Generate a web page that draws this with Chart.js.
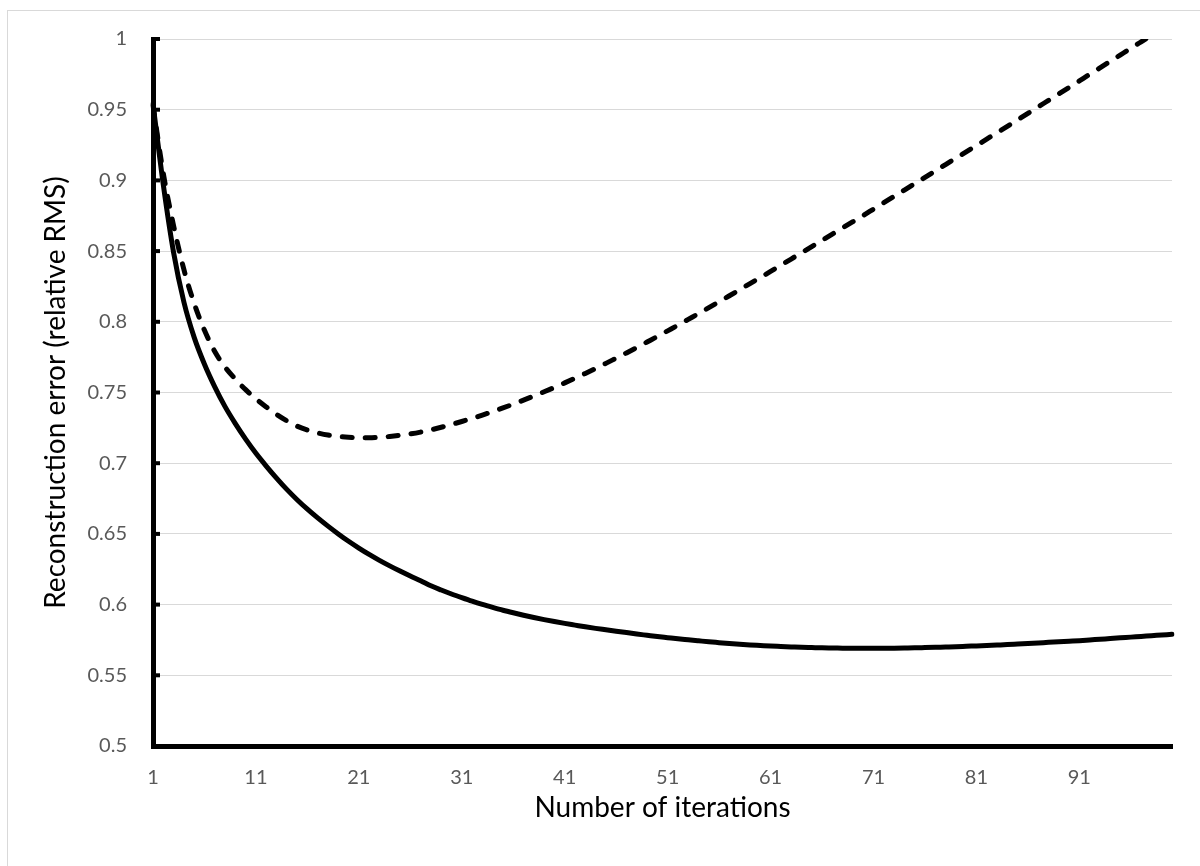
<!DOCTYPE html>
<html>
<head>
<meta charset="utf-8">
<script src="https://cdn.jsdelivr.net/npm/chart.js@4.4.1/dist/chart.umd.min.js"></script>
<style>
  html, body { margin: 0; padding: 0; background: #fff; overflow: hidden; }
  #frame { position: absolute; left: 7px; top: 10px; width: 1300px; height: 1000px; border: 1px solid #d9d9d9; }
  #wrap { position: absolute; left: 0; top: 0; width: 1200px; height: 866px; }
</style>
</head>
<body>
<div id="frame"></div>
<div id="wrap"><canvas id="chart" width="1200" height="866"></canvas></div>
<script>
// iteration numbers 1..100
const iterations = Array.from({ length: 100 }, (_, i) => String(i + 1));

// solid curve
const solidErr = [
  0.9540, 0.8970, 0.8490, 0.8140, 0.7890, 0.7700, 0.7540, 0.7400, 0.7280, 0.7170,
  0.7070, 0.6980, 0.6895, 0.6815, 0.6742, 0.6675, 0.6613, 0.6555, 0.6500, 0.6448,
  0.6400, 0.6355, 0.6313, 0.6274, 0.6237, 0.6202, 0.6169, 0.6133, 0.6103, 0.6075,
  0.6049, 0.6024, 0.6001, 0.5980, 0.5960, 0.5942, 0.5925, 0.5909, 0.5894, 0.5880,
  0.5867, 0.5855, 0.5843, 0.5832, 0.5822, 0.5812, 0.5802, 0.5792, 0.5783, 0.5774,
  0.5766, 0.5758, 0.5751, 0.5744, 0.5737, 0.5731, 0.5725, 0.5720, 0.5715, 0.5711,
  0.5707, 0.5704, 0.5701, 0.5698, 0.5696, 0.5694, 0.5693, 0.5692, 0.5691, 0.5691,
  0.5691, 0.5691, 0.5692, 0.5693, 0.5694, 0.5696, 0.5698, 0.5700, 0.5702, 0.5705,
  0.5708, 0.5711, 0.5714, 0.5717, 0.5721, 0.5725, 0.5729, 0.5733, 0.5737, 0.5741,
  0.5745, 0.5750, 0.5755, 0.5760, 0.5765, 0.5770, 0.5775, 0.5780, 0.5785, 0.5790
];

// dashed curve
const dashedErr = [
  0.9530, 0.9050, 0.8680, 0.8370, 0.8130, 0.7940, 0.7790, 0.7680, 0.7595, 0.7520,
  0.7455, 0.7398, 0.7345, 0.7300, 0.7262, 0.7234, 0.7214, 0.7199, 0.7189, 0.7183,
  0.7180, 0.7180, 0.7183, 0.7189, 0.7197, 0.7207, 0.7220, 0.7236, 0.7254, 0.7274,
  0.7295, 0.7317, 0.7340, 0.7365, 0.7391, 0.7418, 0.7446, 0.7475, 0.7505, 0.7536,
  0.7568, 0.7601, 0.7635, 0.7670, 0.7706, 0.7743, 0.7780, 0.7818, 0.7857, 0.7896,
  0.7936, 0.7976, 0.8017, 0.8058, 0.8100, 0.8142, 0.8184, 0.8227, 0.8270, 0.8313,
  0.8356, 0.8400, 0.8444, 0.8488, 0.8532, 0.8576, 0.8620, 0.8664, 0.8708, 0.8752,
  0.8797, 0.8842, 0.8887, 0.8932, 0.8977, 0.9022, 0.9067, 0.9112, 0.9157, 0.9202,
  0.9247, 0.9292, 0.9337, 0.9382, 0.9428, 0.9474, 0.9520, 0.9566, 0.9612, 0.9658,
  0.9704, 0.9750, 0.9796, 0.9842, 0.9888, 0.9934, 0.9980, 1.0026, 1.0072, 1.0118
];

const yMin = 0.5;
const yMax = 1;
const yStep = 0.05;

// small black tick marks on the inside of the y axis
const innerTicks = {
  id: 'innerTicks',
  beforeDatasetsDraw(chart) {
    const { ctx, chartArea, scales: { y } } = chart;
    ctx.save();
    ctx.strokeStyle = '#000';
    ctx.lineWidth = 4;
    y.ticks.forEach(t => {
      const py = y.getPixelForValue(t.value);
      ctx.beginPath();
      ctx.moveTo(chartArea.left, py);
      ctx.lineTo(chartArea.left + 7, py);
      ctx.stroke();
    });
    ctx.restore();
  }
};

new Chart(document.getElementById('chart'), {
  type: 'line',
  data: {
    labels: iterations,
    datasets: [
      {
        data: solidErr,
        borderColor: '#000',
        borderWidth: 5,
        pointRadius: 0,
        cubicInterpolationMode: 'monotone',
        borderCapStyle: 'round',
        borderJoinStyle: 'round'
      },
      {
        data: dashedErr,
        borderColor: '#000',
        borderWidth: 5,
        borderDash: [10, 13],
        borderCapStyle: 'round',
        borderJoinStyle: 'round',
        pointRadius: 0,
        cubicInterpolationMode: 'monotone'
      }
    ]
  },
  options: {
    responsive: false,
    animation: false,
    devicePixelRatio: 1,
    layout: { padding: { top: 39, right: 28, left: 0, bottom: 0 } },
    plugins: { legend: { display: false }, tooltip: { enabled: false } },
    scales: {
      x: {
        type: 'category',
        offset: false,
        grid: { display: false },
        border: { display: true, color: '#000', width: 5 },
        ticks: {
          autoSkip: false,
          maxRotation: 0,
          minRotation: 0,
          padding: 12,
          color: '#595959',
          font: { family: 'Lato', size: 20 },
          callback: (val, idx) => (idx % 10 === 0 ? iterations[idx] : '')
        },
        title: {
          display: true,
          text: 'Number of iterations',
          color: '#000',
          font: { family: 'Lato', size: 28 },
          padding: { top: 0, bottom: 41 }
        },
        afterFit: s => { s.height = 120; }
      },
      y: {
        min: yMin,
        max: yMax,
        grid: { color: '#d9d9d9', lineWidth: 1, drawTicks: false },
        border: { display: true, color: '#000', width: 5 },
        ticks: {
          stepSize: yStep,
          padding: 26,
          color: '#595959',
          font: { family: 'Lato', size: 20 },
          callback: v => String(+v.toFixed(2))
        },
        title: {
          display: true,
          text: 'Reconstruction error (relative RMS)',
          color: '#000',
          font: { family: 'Lato', size: 28 },
          padding: { top: 39, bottom: 0 }
        },
        afterFit: s => { s.width = 153; }
      }
    }
  },
  plugins: [innerTicks]
});
</script>
</body>
</html>
